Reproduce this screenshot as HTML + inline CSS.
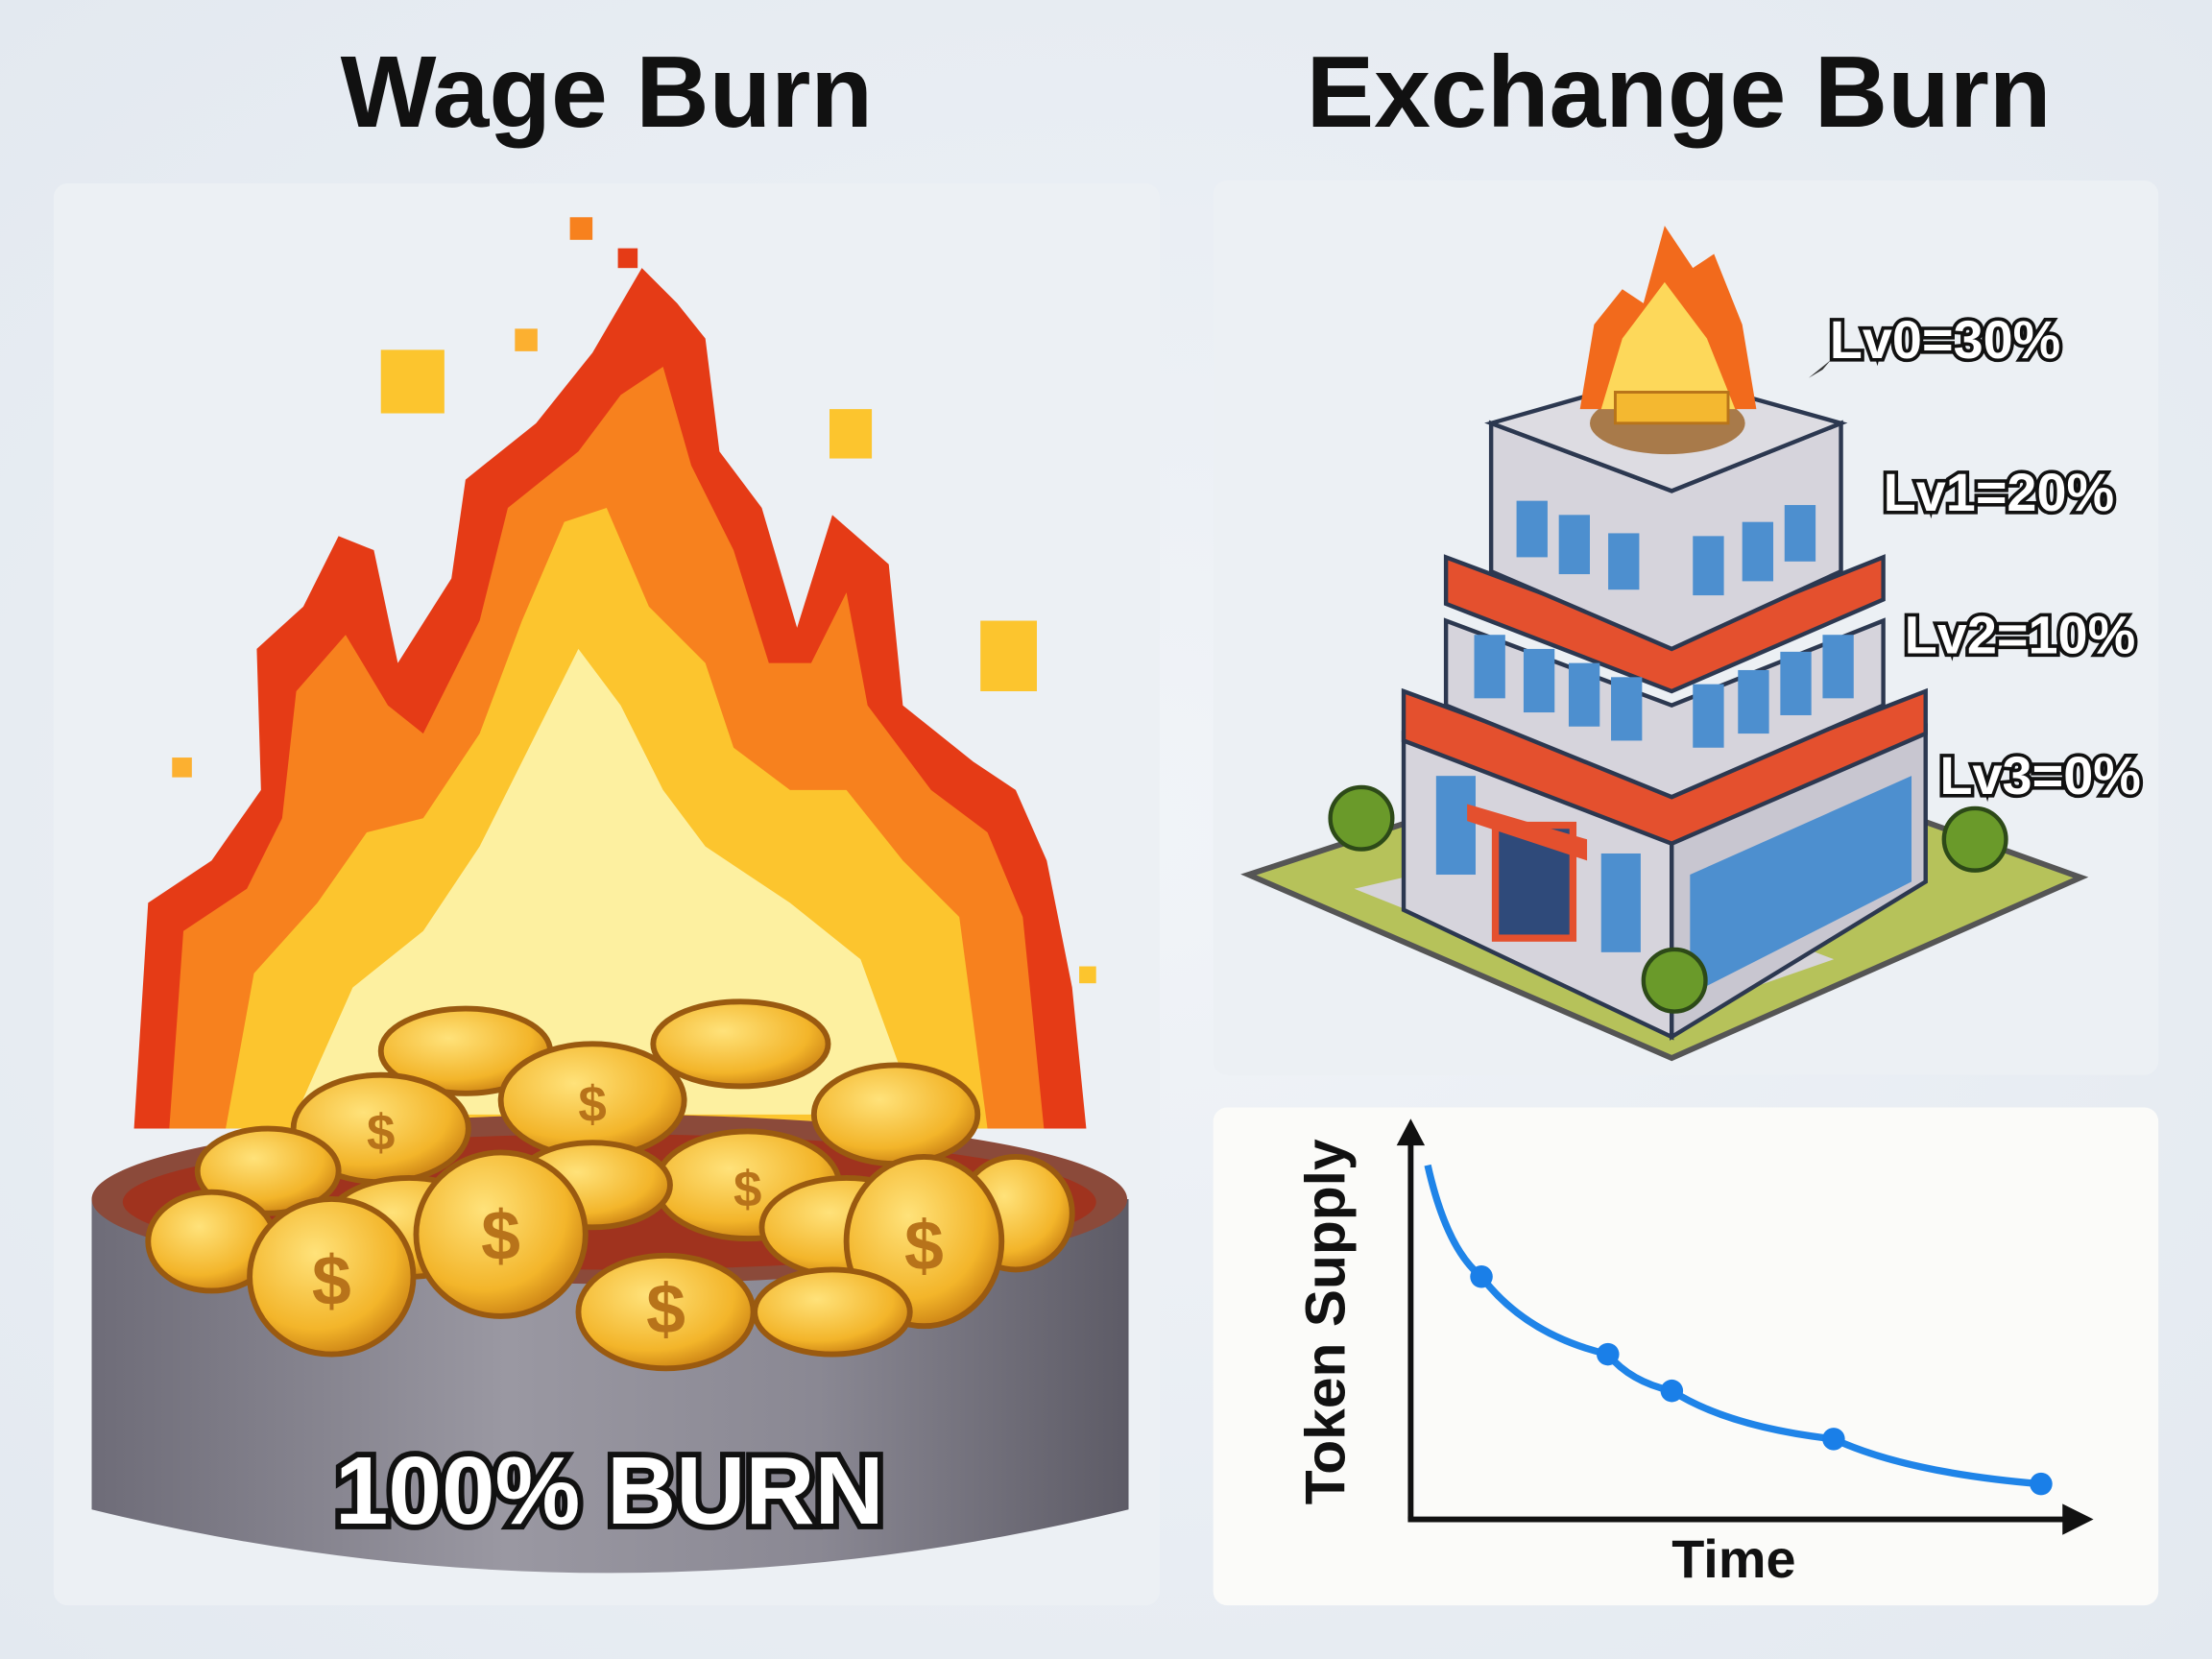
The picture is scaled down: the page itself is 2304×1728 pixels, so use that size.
<!DOCTYPE html>
<html><head><meta charset="utf-8"><style>
html,body{margin:0;padding:0;background:#e8edf3;}
svg{display:block;}
text{font-family:"Liberation Sans",sans-serif;font-weight:bold;}
</style></head><body>
<svg width="2304" height="1728" viewBox="0 0 1568 1176">
<defs>
<radialGradient id="bg" cx="50%" cy="50%" r="70%"><stop offset="0" stop-color="#f1f4f8"/><stop offset="1" stop-color="#e3e9f0"/></radialGradient>
<linearGradient id="potg" x1="0" x2="1"><stop offset="0" stop-color="#6e6c78"/><stop offset="0.4" stop-color="#9a98a2"/><stop offset="0.7" stop-color="#8a8893"/><stop offset="1" stop-color="#5d5b66"/></linearGradient>
<radialGradient id="coing" cx="40%" cy="35%" r="70%"><stop offset="0" stop-color="#ffe27a"/><stop offset="0.7" stop-color="#f3b52a"/><stop offset="1" stop-color="#c77d12"/></radialGradient>
</defs>
<rect width="1568" height="1176" fill="url(#bg)"/>
<text x="430" y="90" font-size="72" text-anchor="middle" fill="#111">Wage Burn</text>
<text x="1190" y="90" font-size="72" text-anchor="middle" fill="#111">Exchange Burn</text>

<g>
<rect x="38" y="130" width="784" height="1008" rx="10" fill="#ecf0f4"/>
<g>
<polygon fill="#e53b16" points="95,800 105,640 150,610 185,560 182,460 215,430 240,380 265,390 282,470 320,410 330,340 380,300 420,250 455,190 480,215 500,240 510,320 540,360 565,445 590,365 630,400 640,500 690,540 720,560 742,610 760,700 770,800"/>
<polygon fill="#f7811e" points="120,800 130,660 175,630 200,580 210,490 245,450 275,500 300,520 340,440 360,360 410,320 440,280 470,260 490,330 520,390 545,470 575,470 600,420 615,500 660,560 700,590 725,650 740,800"/>
<polygon fill="#fcc52e" points="160,800 180,690 225,640 260,590 300,580 340,520 370,440 400,370 430,360 460,430 500,470 520,530 560,560 600,560 640,610 680,650 700,800"/>
<polygon fill="#fdf0a0" points="210,790 250,700 300,660 340,600 380,520 410,460 440,500 470,560 500,600 560,640 610,680 650,790"/>
<rect x="404" y="154" width="16" height="16" fill="#f7811e"/>
<rect x="438" y="176" width="14" height="14" fill="#e53b16"/>
<rect x="365" y="233" width="16" height="16" fill="#fcb030"/>
<rect x="270" y="248" width="45" height="45" fill="#fcc52e"/>
<rect x="588" y="290" width="30" height="35" fill="#fcc52e"/>
<rect x="695" y="440" width="40" height="50" fill="#fcc52e"/>
<rect x="122" y="537" width="14" height="14" fill="#fcb030"/>
<rect x="765" y="685" width="12" height="12" fill="#fcc52e"/>
</g>
<g>
<path d="M65,850 L65,1070 Q432,1160 800,1070 L800,850 Z" fill="url(#potg)"/>
<ellipse cx="432" cy="850" rx="367" ry="60" fill="#8b4a3a"/>
<ellipse cx="432" cy="852" rx="345" ry="48" fill="#a0331e"/>
</g>
<g stroke="#9a5a10" stroke-width="4">
<ellipse cx="330" cy="745" rx="60" ry="30" fill="url(#coing)"/>
<ellipse cx="525" cy="740" rx="62" ry="30" fill="url(#coing)"/>
<ellipse cx="420" cy="780" rx="65" ry="40" fill="url(#coing)"/>
<ellipse cx="270" cy="800" rx="62" ry="38" fill="url(#coing)"/>
<ellipse cx="635" cy="790" rx="58" ry="35" fill="url(#coing)"/>
<ellipse cx="190" cy="830" rx="50" ry="30" fill="url(#coing)"/>
<ellipse cx="530" cy="840" rx="65" ry="38" fill="url(#coing)"/>
<ellipse cx="720" cy="860" rx="40" ry="40" fill="url(#coing)"/>
<ellipse cx="150" cy="880" rx="45" ry="35" fill="url(#coing)"/>
<ellipse cx="420" cy="840" rx="55" ry="30" fill="url(#coing)"/>
<ellipse cx="600" cy="870" rx="60" ry="35" fill="url(#coing)"/>
<ellipse cx="290" cy="870" rx="60" ry="35" fill="url(#coing)"/>
<ellipse cx="235" cy="905" rx="58" ry="55" fill="url(#coing)"/>
<ellipse cx="355" cy="875" rx="60" ry="58" fill="url(#coing)"/>
<ellipse cx="655" cy="880" rx="55" ry="60" fill="url(#coing)"/>
<ellipse cx="472" cy="930" rx="62" ry="40" fill="url(#coing)"/>
<ellipse cx="590" cy="930" rx="55" ry="30" fill="url(#coing)"/>
</g>
<g font-size="50" fill="#b8731a" text-anchor="middle">
<text x="235" y="925">$</text><text x="355" y="893">$</text><text x="655" y="900">$</text><text x="472" y="945">$</text><text x="420" y="795" font-size="36">$</text><text x="530" y="855" font-size="36">$</text><text x="270" y="815" font-size="36">$</text>
</g>
<text x="432" y="1080" font-size="68" text-anchor="middle" fill="#fff" stroke="#111" stroke-width="8" paint-order="stroke">100% BURN</text>
</g>

<g>
<rect x="860" y="128" width="670" height="634" rx="10" fill="#ecf0f4"/>
<polygon points="885,620 1190,520 1475,622 1185,750" fill="#b6c25a" stroke="#555" stroke-width="4"/>
<polygon points="960,630 1185,720 1300,680 1090,600" fill="#d6d4d9"/>
<g stroke="#2c3850" stroke-width="3">
<polygon points="995,520 1185,595 1185,735 995,645" fill="#d6d4dc"/>
<polygon points="1185,595 1365,515 1365,625 1185,735" fill="#c8c6d0"/>
<polygon points="995,490 1185,560 1365,490 1365,520 1185,598 995,525" fill="#e4502e"/>
<polygon points="1025,440 1185,500 1335,440 1335,500 1185,565 1025,500" fill="#d6d4dc"/>
<polygon points="1025,395 1185,455 1335,395 1335,425 1185,490 1025,428" fill="#e4502e"/>
<polygon points="1057,300 1185,348 1305,300 1305,405 1185,460 1057,405" fill="#d6d4dc"/>
<polygon points="1057,300 1180,265 1305,300 1185,348" fill="#dddce2"/>
</g>
<g fill="#4d8fcf">
<rect x="1075" y="355" width="22" height="40"/><rect x="1105" y="365" width="22" height="42"/><rect x="1140" y="378" width="22" height="40"/>
<rect x="1200" y="380" width="22" height="42"/><rect x="1235" y="370" width="22" height="42"/><rect x="1265" y="358" width="22" height="40"/>
<rect x="1045" y="450" width="22" height="45"/><rect x="1080" y="460" width="22" height="45"/><rect x="1112" y="470" width="22" height="45"/><rect x="1142" y="480" width="22" height="45"/>
<rect x="1200" y="485" width="22" height="45"/><rect x="1232" y="475" width="22" height="45"/><rect x="1262" y="462" width="22" height="45"/><rect x="1292" y="450" width="22" height="45"/>
<rect x="1018" y="550" width="28" height="70"/><rect x="1135" y="605" width="28" height="70"/>
<polygon points="1198,620 1355,550 1355,625 1198,705"/>
</g>
<rect x="1060" y="585" width="55" height="80" fill="#2f4a7a" stroke="#e4502e" stroke-width="5"/>
<polygon points="1040,570 1125,595 1125,610 1040,582" fill="#e4502e"/>
<g fill="#6a9a2a" stroke="#2d4a18" stroke-width="3">
<circle cx="965" cy="580" r="22"/><circle cx="1400" cy="595" r="22"/><circle cx="1187" cy="695" r="22"/>
</g>
<ellipse cx="1182" cy="300" rx="55" ry="22" fill="#a87a4a"/>
<polygon points="1120,290 1130,230 1150,205 1165,215 1180,160 1200,190 1215,180 1235,230 1245,290" fill="#f26a1c"/>
<polygon points="1135,290 1150,240 1180,200 1210,240 1230,290" fill="#fdd85a"/>
<rect x="1145" y="278" width="80" height="22" fill="#f4b830" stroke="#b8741a" stroke-width="2"/>
<g font-size="38" fill="#fff" stroke="#111" stroke-width="5" paint-order="stroke">
<text x="1297" y="254">Lv0=30%</text>
<text x="1335" y="362">Lv1=20%</text>
<text x="1350" y="463">Lv2=10%</text>
<text x="1375" y="563">Lv3=0%</text>
</g>
<polygon points="1282,268 1298,255 1292,262" fill="#333"/>
</g>

<g>
<rect x="860" y="785" width="670" height="353" rx="10" fill="#fbfbf9"/>
<g id="chart"></g>
<line x1="1000" y1="1077" x2="1000" y2="810" stroke="#111" stroke-width="4"/>
<polygon points="990,812 1000,793 1010,812" fill="#111"/>
<line x1="998" y1="1077" x2="1465" y2="1077" stroke="#111" stroke-width="4"/>
<polygon points="1462,1066 1484,1077 1462,1088" fill="#111"/>
<text x="1229" y="1118" font-size="38" text-anchor="middle" fill="#111">Time</text>
<text transform="translate(953,937) rotate(-90)" font-size="40" text-anchor="middle" fill="#111">Token Supply</text>
</g>
</svg>
<script>
const times = [0.25, 1.04, 2.9, 3.84, 6.22, 9.27];
const supply = [89, 61, 41.5, 32.3, 20.2, 8.9];
const markerIdx = [1, 2, 3, 4, 5];
const sx = t => 1000 + t / 10 * 482;
const sy = v => 1077 - v / 100 * 282;
const NS = "http://www.w3.org/2000/svg";
const g = document.getElementById("chart");
let d = "";
for (let i = 0; i < times.length; i++) {
  const x = sx(times[i]), y = sy(supply[i]);
  if (i === 0) { d += "M" + x + "," + y; }
  else {
    const px = sx(times[i-1]), py = sy(supply[i-1]);
    const cx = px + (x - px) * 0.35;
    d += " Q" + cx + "," + (py + (y - py) * 0.75) + " " + x + "," + y;
  }
}
const path = document.createElementNS(NS, "path");
path.setAttribute("d", d);
path.setAttribute("fill", "none");
path.setAttribute("stroke", "#1f84e8");
path.setAttribute("stroke-width", "5");


g.appendChild(path);
markerIdx.forEach(i => {
  const c = document.createElementNS(NS, "circle");
  c.setAttribute("cx", sx(times[i]));
  c.setAttribute("cy", sy(supply[i]));
  c.setAttribute("r", "8");
  c.setAttribute("fill", "#1a7fe8");
  
  
  g.appendChild(c);
});
</script>
</body></html>
